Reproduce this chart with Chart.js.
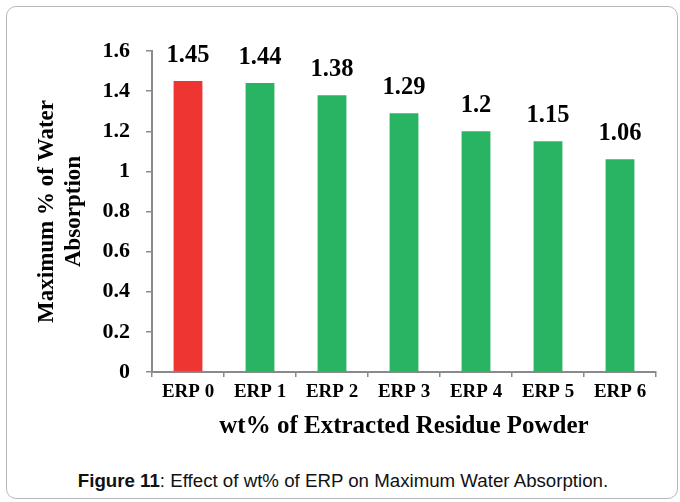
<!DOCTYPE html>
<html>
<head>
<meta charset="utf-8">
<script src="https://cdn.jsdelivr.net/npm/chart.js@4"></script>
<style>
  html, body { margin: 0; padding: 0; background: #fff; }
  #wrap { position: relative; width: 680px; height: 502px; overflow: hidden; }
  #frame {
    position: absolute; left: 6px; top: 6px; width: 672px; height: 493px;
    border: 1px solid #b8b8b8; border-radius: 10px; box-sizing: border-box;
  }
  #chart { position: absolute; left: 0; top: 0; }
  #caption {
    position: absolute; left: 7px; width: 672px; top: 470px; text-align: center;
    font-family: "Liberation Sans", Arial, sans-serif; font-size: 18.7px; color: #111;
  }
</style>
</head>
<body>
<div id="wrap">
  <div id="frame"></div>
  <canvas id="chart" width="680" height="450"></canvas>
  <div id="caption"><b>Figure 11</b>: Effect of wt% of ERP on Maximum Water Absorption.</div>
</div>
<script>
// Chart data
const categories = ['ERP 0', 'ERP 1', 'ERP 2', 'ERP 3', 'ERP 4', 'ERP 5', 'ERP 6'];
const waterAbsorption = [1.45, 1.44, 1.38, 1.29, 1.2, 1.15, 1.06];
const yTickValues = [0, 0.2, 0.4, 0.6, 0.8, 1, 1.2, 1.4, 1.6];

const serif = '"Liberation Serif", "Times New Roman", serif';
const axisGray = '#8a8a8a';

// Draw value labels above each bar
const valueLabels = {
  id: 'valueLabels',
  afterDatasetsDraw(chart) {
    const ctx = chart.ctx;
    const meta = chart.getDatasetMeta(0);
    ctx.save();
    ctx.font = 'bold 24.5px ' + serif;
    ctx.fillStyle = '#000';
    ctx.textAlign = 'center';
    ctx.textBaseline = 'alphabetic';
    meta.data.forEach((bar, i) => {
      ctx.fillText(String(waterAbsorption[i]), bar.x, bar.y - 19);
    });
    ctx.restore();
  }
};

const ctx = document.getElementById('chart').getContext('2d');
const chart = new Chart(ctx, {
  type: 'bar',
  data: {
    labels: categories,
    datasets: [{
      data: waterAbsorption,
      backgroundColor: c => c.dataIndex === 0 ? '#ee3531' : '#28b462',
      borderWidth: 0,
      categoryPercentage: 1,
      barPercentage: 0.4
    }]
  },
  options: {
    responsive: false,
    animation: false,
    devicePixelRatio: 1,
    layout: { padding: { left: 20, top: 51, right: 24, bottom: 0 } },
    plugins: {
      legend: { display: false },
      tooltip: { enabled: false }
    },
    scales: {
      x: {
        grid: {
          offset: true,
          drawOnChartArea: false,
          drawTicks: true,
          tickLength: 5,
          color: axisGray,
          lineWidth: 1.5
        },
        border: { color: axisGray, width: 2 },
        ticks: {
          color: '#000',
          padding: 4,
          font: { family: serif, size: 19, weight: 'bold' }
        },
        title: {
          display: true,
          text: 'wt% of Extracted Residue Powder',
          color: '#000',
          font: { family: serif, size: 25, weight: 'bold' },
          padding: { top: 0, bottom: 8 }
        },
        afterFit(scale) { scale.height = 78; }
      },
      y: {
        min: 0,
        max: 1.6,
        afterBuildTicks(scale) {
          scale.ticks = yTickValues.map(v => ({ value: v }));
        },
        grid: {
          drawOnChartArea: false,
          drawTicks: true,
          tickLength: 6,
          color: axisGray,
          lineWidth: 1.5
        },
        border: { color: axisGray, width: 2 },
        ticks: {
          color: '#000',
          padding: 16,
          font: { family: serif, size: 22, weight: 'bold' },
          callback: v => String(v)
        },
        title: {
          display: true,
          text: ['Maximum % of Water', 'Absorption'],
          color: '#000',
          font: { family: serif, size: 23, weight: 'bold', lineHeight: 1.2 },
          padding: { top: 13, bottom: 0 }
        },
        afterFit(scale) { scale.width = 132; }
      }
    }
  },
  plugins: [valueLabels]
});
</script>
</body>
</html>
